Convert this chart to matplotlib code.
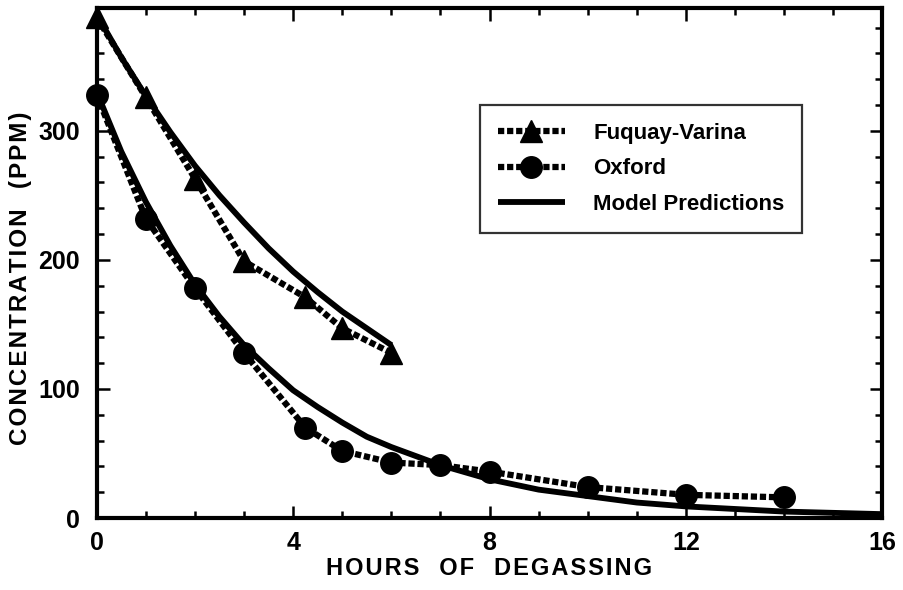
import matplotlib
matplotlib.use("Agg")
import matplotlib.pyplot as plt
from matplotlib.ticker import MultipleLocator

plt.rcParams['font.family'] = ['Liberation Sans', 'DejaVu Sans']
plt.rcParams['font.weight'] = 'bold'

# measured data
fv_hours = [0, 1, 2, 3, 4.25, 5, 6]
fv_ppm = [388, 326, 263, 199, 171, 147, 128]

ox_hours = [0, 1, 2, 3, 4.25, 5, 6, 7, 8, 10, 12, 14]
ox_ppm = [328, 232, 178, 128, 70, 52, 43, 41, 36, 24, 18, 16]

# model prediction curves
fv_model_hours = [0, 0.5, 1, 1.5, 2, 2.5, 3, 3.5, 4, 4.5, 5, 5.5, 6]
fv_model_ppm = [390, 357, 327, 299, 273, 250, 229, 209, 191, 175, 160, 147, 134]

ox_model_hours = [0, 0.5, 1, 1.5, 2, 2.5, 3, 3.5, 4, 4.5, 5, 5.5, 6,
                  7, 8, 9, 10, 11, 12, 13, 14, 15, 16]
ox_model_ppm = [330, 284, 245, 211, 181, 156, 134, 116, 99, 86, 74, 63, 55,
                41, 30, 22, 17, 12, 9, 7, 5, 4, 3]


def spaced(text):
    # slightly loose letter spacing like the original typesetting
    return '\u200a'.join(text)


fig = plt.figure(figsize=(9.04, 5.90), dpi=100)
ax = fig.add_axes([0.107, 0.122, 0.869, 0.864])

dots = (0, (1.0, 0.45))
ax.plot(fv_model_hours, fv_model_ppm, color='black', lw=4.2, solid_capstyle='butt', zorder=2)
ax.plot(ox_model_hours, ox_model_ppm, color='black', lw=4.2, solid_capstyle='butt', zorder=2,
        label='Model Predictions')
ax.plot(fv_hours, fv_ppm, color='black', lw=4.5, ls=dots, marker='^', ms=16,
        clip_on=False, zorder=3, label='Fuquay-Varina')
ax.plot(ox_hours, ox_ppm, color='black', lw=4.5, ls=dots, marker='o', ms=15.5,
        clip_on=False, zorder=3, label='Oxford')

ax.set_xlim(0, 16)
ax.set_ylim(0, 395)
ax.xaxis.set_major_locator(MultipleLocator(4))
ax.xaxis.set_minor_locator(MultipleLocator(1))
ax.yaxis.set_major_locator(MultipleLocator(100))
ax.yaxis.set_minor_locator(MultipleLocator(20))
ax.tick_params(which='both', direction='in', top=True, right=True, width=1.8)
ax.tick_params(which='major', length=9)
ax.tick_params(axis='x', which='major', pad=9)
ax.tick_params(axis='y', which='major', pad=12)
ax.tick_params(which='minor', length=5)
for lab in ax.get_xticklabels() + ax.get_yticklabels():
    lab.set_fontweight('bold')
    lab.set_fontsize(18)
for s in ax.spines.values():
    s.set_linewidth(3)

ax.set_xlabel(spaced('HOURS') + '   ' + spaced('OF') + '   ' + spaced('DEGASSING'),
              fontsize=17, fontweight='bold', labelpad=2)
ax.set_ylabel(spaced('CONCENTRATION') + '   ' + spaced('(PPM)'),
              fontsize=17.5, fontweight='bold')
ax.yaxis.set_label_coords(-0.083, 0.47)

handles, labels = ax.get_legend_handles_labels()
order = [labels.index('Fuquay-Varina'), labels.index('Oxford'), labels.index('Model Predictions')]
leg = ax.legend([handles[i] for i in order], [labels[i] for i in order],
                loc='upper left', bbox_to_anchor=(0.488, 0.81), fontsize=16,
                frameon=True, fancybox=False, edgecolor='black', handlelength=3.0,
                borderpad=0.8, labelspacing=0.65, handletextpad=1.3, borderaxespad=0)
leg.get_frame().set_linewidth(1.6)
for t in leg.get_texts():
    t.set_fontweight('bold')

fig.savefig('out.png', dpi=100)
